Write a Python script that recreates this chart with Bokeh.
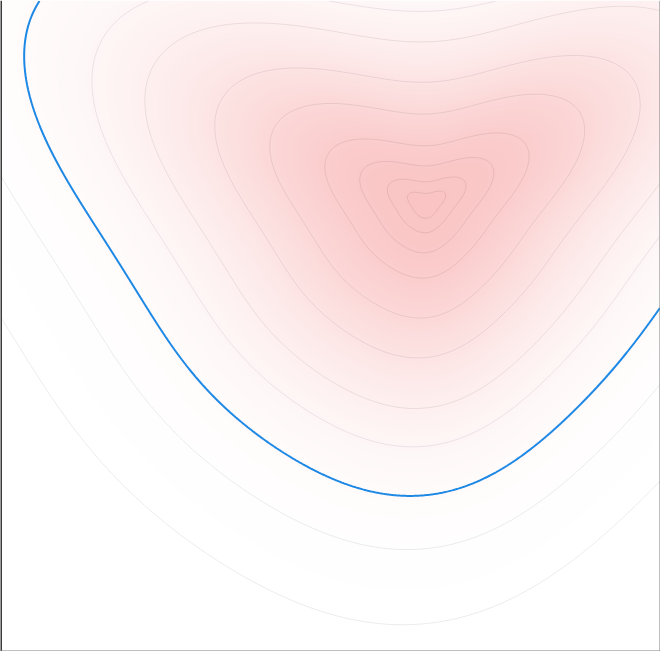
import numpy as np
from bokeh.plotting import figure
from bokeh.models import Range1d, Span
from bokeh.embed import file_html
from bokeh.resources import INLINE

W, H = 660, 651

# Peak of the surface (screen pixels, y measured downward)
peak_x, peak_y = 426, 204

# Traced contours (screen pixels, y downward) with their level
c6_x = [430, 421, 390, 350, 300, 257, 225, 215, 218, 230, 253, 290, 337, 410, 483, 520, 563, 597, 627, 637, 630, 597, 563, 530, 480]
c6_y = [82, 81, 78, 75, 71, 70, 80, 110, 140, 177, 217, 263, 330, 357, 330, 293, 240, 193, 140, 97, 73, 49, 55, 63, 73]
c6_level = 1.0

c7_x = [421, 206, 145, 180, 207, 247, 277, 410, 547, 580, 620, 660]
c7_y = [42, 25, 90, 200, 237, 287, 330, 408, 330, 287, 237, 183]
c7_level = 1.33

c8_x = [421, 93, 180, 203, 213, 406, 593, 627, 660]
c8_y = [10, 67, 280, 317, 330, 447, 330, 283, 237]
c8_level = 1.58

blue_x = [33, 26, 28, 33, 43, 55, 80, 114, 154, 181, 219, 253, 295, 337, 402, 463, 505, 547, 589, 640, 660]
blue_y = [0, 40, 67, 90, 118, 150, 210, 267, 330, 363, 398, 430, 460, 480, 494, 483, 467, 440, 397, 330, 303]
blue_level = 1.90

# Thin grey contour levels (same relative scale)
gray_levels = [0.09, 0.185, 0.315, 0.48, 0.74, 1.0, 1.33, 1.58, 1.90, 2.25, 2.74]

# Shading colours
peak_rgb = [250, 196, 196]
shade_width = 1.15
n_harmonics = 6


def polar(xs, ys, lev):
    dx = np.asarray(xs, float) - peak_x
    dy = np.asarray(ys, float) - peak_y
    return np.arctan2(dy, dx), np.hypot(dx, dy) / lev


def basis(t):
    cols = [np.ones_like(t)]
    for k in range(1, n_harmonics + 1):
        cols.append(np.cos(k * t))
        cols.append(np.sin(k * t))
    return np.stack(cols, axis=-1)


angs, rads = [], []
for cx, cy, lev in [(c6_x, c6_y, c6_level), (c7_x, c7_y, c7_level),
                    (c8_x, c8_y, c8_level), (blue_x, blue_y, blue_level)]:
    a, r = polar(cx, cy, lev)
    angs.append(a)
    rads.append(r)
ang = np.concatenate(angs)
rad = np.concatenate(rads)

A = basis(ang)
lam = 1e-3 * np.diag([0] + [k ** 2 for k in range(1, n_harmonics + 1) for _ in (0, 1)])
coef = np.linalg.solve(A.T @ A + lam, A.T @ (1.0 / rad))

xs = np.arange(W) + 0.5
ys_up = np.arange(H) + 0.5
X, Yup = np.meshgrid(xs, ys_up)
V = H - Yup
dx = X - peak_x
dy = V - peak_y
theta = np.arctan2(dy, dx)
r = np.hypot(dx, dy)
inv_R = basis(theta) @ coef
rho = r * inv_R

f = np.exp(-(rho / shade_width) ** 2)
rgb = 255.0 - f[..., None] * (255.0 - np.array(peak_rgb, float))
img = np.empty((H, W), dtype=np.uint32)
view = img.view(dtype=np.uint8).reshape((H, W, 4))
view[..., 0:3] = np.clip(rgb.round(), 0, 255).astype(np.uint8)
view[..., 3] = 255

p = figure(width=W, height=H, x_range=Range1d(0, W), y_range=Range1d(0, H),
           output_backend="svg", toolbar_location=None,
           x_axis_location=None, y_axis_location=None, min_border=0)
p.xgrid.visible = False
p.ygrid.visible = False
p.outline_line_color = None
p.background_fill_color = "white"
p.border_fill_color = "white"

p.image_rgba(image=[img], x=0, y=0, dw=W, dh=H)
p.contour(xs, ys_up, rho, levels=gray_levels, line_color="black", line_alpha=0.08, line_width=1)
p.contour(xs, ys_up, rho, levels=[blue_level], line_color="#1e88e5", line_width=2)

p.add_layout(Span(location=0, dimension="height", line_color="#3a3a3a", line_width=3))
p.add_layout(Span(location=0, dimension="width", line_color="#808080", line_width=2))
p.add_layout(Span(location=W, dimension="height", line_color="#808080", line_width=2))

html = file_html(p, INLINE)
html = html.replace("<head>", "<head>\n<style>html, body {margin:0; padding:0; overflow:hidden;}</style>", 1)
open("out.html", "w").write(html)
